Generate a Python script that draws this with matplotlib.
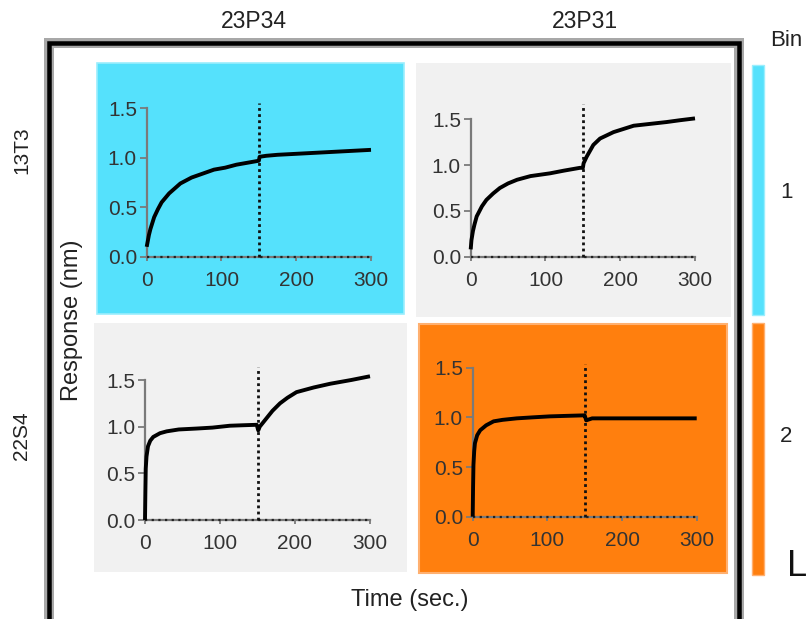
import matplotlib
matplotlib.use("Agg")
import matplotlib.pyplot as plt
from matplotlib.patches import Rectangle
from matplotlib.lines import Line2D

plt.rcParams['font.family'] = ['Liberation Sans', 'DejaVu Sans']

# ---------------- data ----------------
col_labels = ["23P34", "23P31"]
row_labels = ["13T3", "22S4"]
bin_labels = ["1", "2"]
yticks = [0.0, 0.5, 1.0, 1.5]
xticks = [0, 100, 200, 300]
switch_time = 150

time_tl = [0, 1, 3, 5, 10, 15, 20, 30, 45, 60, 75, 90, 105, 120, 135, 150, 151, 160, 175, 200, 225, 250, 275, 300]
resp_tl = [0.10, 0.14, 0.22, 0.28, 0.40, 0.48, 0.55, 0.64, 0.74, 0.80, 0.84, 0.88, 0.90, 0.93, 0.95, 0.97, 1.01, 1.02, 1.03, 1.04, 1.05, 1.06, 1.07, 1.08]

time_tr = [0, 1, 3, 5, 8, 15, 21, 30, 39, 50, 62, 80, 106, 125, 146, 150, 151, 155, 164, 173, 191, 218, 240, 262, 280, 300]
resp_tr = [0.08, 0.18, 0.28, 0.35, 0.44, 0.55, 0.62, 0.69, 0.75, 0.80, 0.84, 0.88, 0.91, 0.94, 0.97, 0.97, 1.02, 1.09, 1.22, 1.29, 1.36, 1.43, 1.45, 1.47, 1.49, 1.51]

time_bl = [0, 0.5, 1, 2, 4, 7, 11, 20, 29, 45, 69, 90, 113, 130, 149, 151, 153, 162, 170, 180, 190, 202, 225, 247, 275, 300]
resp_bl = [0.0, 0.30, 0.55, 0.68, 0.79, 0.85, 0.89, 0.93, 0.95, 0.97, 0.98, 0.99, 1.01, 1.015, 1.02, 0.96, 1.00, 1.09, 1.17, 1.25, 1.31, 1.37, 1.42, 1.46, 1.50, 1.54]

time_br = [0, 0.5, 1, 2, 3, 6, 10, 18, 28, 40, 59, 80, 103, 125, 148, 150, 152, 160, 200, 250, 300]
resp_br = [0.0, 0.30, 0.52, 0.66, 0.74, 0.82, 0.87, 0.92, 0.96, 0.975, 0.99, 1.00, 1.01, 1.015, 1.02, 1.02, 0.97, 0.99, 0.99, 0.99, 0.99]

marker_top = [1.55, 1.67, 1.64, 1.54]

# ---------------- layout ----------------
W, H = 810, 619
fig = plt.figure(figsize=(W / 100, H / 100), dpi=100)
fig.patch.set_facecolor("white")

CYAN = "#55E1FC"
ORANGE = "#FF7F0E"
GREY = "#F1F1F1"


def rect_px(x0, y0, x1, y1, color, z=0.5, ec="none", lw=0):
    r = Rectangle((x0 / W, 1 - y1 / H), (x1 - x0) / W, (y1 - y0) / H,
                  transform=fig.transFigure, facecolor=color, edgecolor=ec,
                  linewidth=lw, zorder=z)
    fig.add_artist(r)


# panel backgrounds
rect_px(97, 63, 404, 314, CYAN, ec="#9BEEFD", lw=1.2)
rect_px(416, 63, 731, 317, GREY)
rect_px(94, 323, 407, 572, GREY)
rect_px(419, 324, 727, 573, ORANGE, ec="#FFB070", lw=1.5)

# legend bars
rect_px(752, 65, 764, 315, CYAN, ec="#9BEEFD", lw=1.0)
rect_px(752, 323, 764, 575, ORANGE, ec="#FFB070", lw=1.0)

# outer box
def box_line(xs, ys, color, lw_px, z):
    ln = Line2D([x / W for x in xs], [1 - y / H for y in ys], transform=fig.transFigure,
                color=color, linewidth=lw_px * 72 / 100, zorder=z,
                solid_joinstyle="miter", solid_capstyle="butt")
    fig.add_artist(ln)

bx = [48.5, 48.5, 738.5, 738.5]
by = [640, 42.5, 42.5, 640]
box_line(bx, by, "#A8A8A8", 10, 3)
box_line(bx, by, "#000000", 4.5, 3.1)

# axes placement in pixels: x at t=0, x at t=300, y at 0, y at 1.5
axes_px = [
    (146.7, 371.0, 256.7, 108.3),
    (470.7, 695.0, 256.7, 119.3),
    (145.0, 370.0, 520.0, 380.0),
    (472.7, 696.7, 516.7, 367.7),
]
series = [(time_tl, resp_tl), (time_tr, resp_tr), (time_bl, resp_bl), (time_br, resp_br)]

TICK_COL = "#333333"
SPINE_COL = "#7A7A7A"

for (x0, x1, y0, y1), (t, r), top in zip(axes_px, series, marker_top):
    ax = fig.add_axes([x0 / W, 1 - y0 / H, (x1 - x0) / W, (y0 - y1) / H])
    ax.set_zorder(5)
    ax.patch.set_alpha(0)
    ax.set_xlim(0, 300)
    ax.set_ylim(0, 1.5)
    for s in ["top", "right"]:
        ax.spines[s].set_visible(False)
    ax.spines["left"].set_color(SPINE_COL)
    ax.spines["left"].set_linewidth(1.6)
    ax.spines["bottom"].set_color(SPINE_COL)
    ax.spines["bottom"].set_linewidth(1.6)
    ax.set_xticks(xticks)
    ax.set_yticks(yticks)
    ax.set_yticklabels([f"{v:.1f}" for v in yticks])
    ax.tick_params(axis="y", length=5, width=1.3, color=SPINE_COL, labelsize=15,
                   labelcolor=TICK_COL, pad=2)
    ax.tick_params(axis="x", length=3, width=1.3, color=SPINE_COL, labelsize=15,
                   labelcolor=TICK_COL, pad=7)
    # dotted overlay on x axis
    ax.plot([0, 300], [0, 0], color="#222222", linestyle=(0, (1, 2)), linewidth=1.6,
            clip_on=False, zorder=3)
    # switch marker
    ax.plot([switch_time, switch_time], [0, top], color="#111111", linestyle=(0, (1, 1.2)),
            linewidth=2.0, clip_on=False, zorder=3)
    ax.plot(t, r, color="black", linewidth=2.8, clip_on=False, zorder=4,
            solid_capstyle="butt")

# texts
fig.text(254 / W, 1 - 22 / H, col_labels[0], ha="center", va="center", fontsize=16.5, color="#222222")
fig.text(585 / W, 1 - 22 / H, col_labels[1], ha="center", va="center", fontsize=16.5, color="#222222")
fig.text(22 / W, 1 - 150 / H, row_labels[0], ha="center", va="center", rotation=90, fontsize=15, color="#222222")
fig.text(22 / W, 1 - 436 / H, row_labels[1], ha="center", va="center", rotation=90, fontsize=15, color="#222222")
fig.text(72 / W, 1 - 320 / H, "Response (nm)", ha="center", va="center", rotation=90, fontsize=17, color="#222222")
fig.text(410 / W, 1 - 600 / H, "Time (sec.)", ha="center", va="center", fontsize=17, color="#222222")
fig.text(786 / W, 1 - 193 / H, bin_labels[0], ha="center", va="center", fontsize=16, color="#222222")
fig.text(786 / W, 1 - 437 / H, bin_labels[1], ha="center", va="center", fontsize=16, color="#222222")
fig.text(770 / W, 1 - 40 / H, "Bin", ha="left", va="center", fontsize=16, color="#222222")
fig.text(807 / W, 1 - 566 / H, "L", ha="right", va="center", fontsize=26, color="#111111",
         fontweight="light")

fig.savefig("out.png", dpi=100)
